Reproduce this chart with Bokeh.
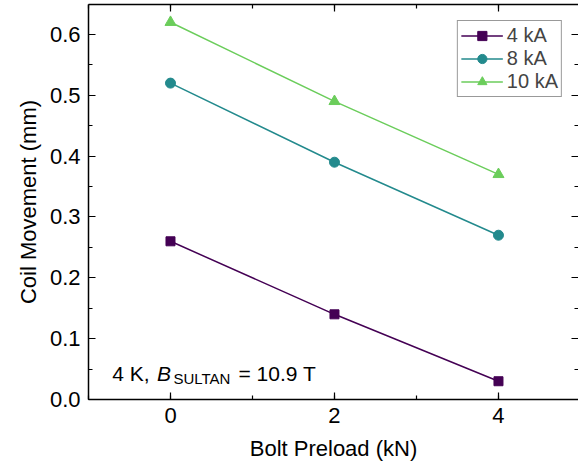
from bokeh.plotting import figure
from bokeh.models import (LinearAxis, SingleIntervalTicker, NumeralTickFormatter,
                          Label, Range1d, CustomJSTickFormatter)
from bokeh.embed import file_html
from bokeh.resources import INLINE

# ---- data ----
preload = [0, 2, 4]
move_4kA = [0.26, 0.14, 0.03]
move_8kA = [0.52, 0.39, 0.27]
move_10kA = [0.62, 0.49, 0.37]
series_labels = ["4 kA", "8 kA", "10 kA"]
x_label = "Bolt Preload (kN)"
y_label = "Coil Movement (mm)"

FONT = "Liberation Sans"
colors = ["#440154", "#238A8D", "#6BCD5B"]

p = figure(width=578, height=463, output_backend="svg", toolbar_location=None,
           x_range=Range1d(-1, 4.976), y_range=Range1d(0, 0.6492),
           min_border_left=88, min_border_right=0, min_border_top=4,
           min_border_bottom=63)
p.xgrid.visible = False
p.ygrid.visible = False
p.outline_line_color = None
p.background_fill_color = "white"
p.border_fill_color = "white"

series = [move_4kA, move_8kA, move_10kA]
markers = ["square", "circle", "triangle"]
sizes = [9, 10, 11]
for ys, c, m, s, lab in zip(series, colors, markers, sizes, series_labels):
    p.line(preload, ys, line_color=c, line_width=1.5, legend_label=lab)
    p.scatter(preload, ys, marker=m, size=s, fill_color=c, line_color=c,
              legend_label=lab)

xt = SingleIntervalTicker(interval=2, num_minor_ticks=2)
yt = SingleIntervalTicker(interval=0.1, num_minor_ticks=2)

def style_axis(ax, labels=True):
    ax.axis_line_color = "black"
    ax.axis_line_width = 1.5
    ax.major_tick_line_color = "black"
    ax.minor_tick_line_color = "black"
    ax.major_tick_line_width = 1.2
    ax.minor_tick_line_width = 1.2
    ax.major_tick_in = 7
    ax.major_tick_out = 0
    ax.minor_tick_in = 4
    ax.minor_tick_out = 0
    if labels:
        ax.major_label_text_font = FONT
        ax.major_label_text_font_size = "22px"
        ax.major_label_text_color = "black"
        ax.axis_label_text_font = FONT
        ax.axis_label_text_font_size = "22px"
        ax.axis_label_text_font_style = "normal"
        ax.axis_label_text_color = "black"
    else:
        ax.formatter = CustomJSTickFormatter(code="return '';")
        ax.major_label_text_font_size = "1px"
        ax.major_label_standoff = 0
        ax.axis_label = None

xa = p.xaxis[0]
xa.ticker = xt
xa.axis_label = x_label
style_axis(xa)
xa.major_label_standoff = 8
xa.axis_label_standoff = 10

ya = p.yaxis[0]
ya.ticker = yt
ya.formatter = NumeralTickFormatter(format="0.0")
ya.axis_label = y_label
style_axis(ya)
ya.major_label_standoff = 8
ya.axis_label_standoff = 6

top = LinearAxis(ticker=SingleIntervalTicker(interval=2, num_minor_ticks=2))
style_axis(top, labels=False)
p.add_layout(top, "above")
right = LinearAxis(ticker=SingleIntervalTicker(interval=0.1, num_minor_ticks=2))
style_axis(right, labels=False)
right.axis_line_color = None
p.add_layout(right, "right")

# legend
lg = p.legend[0]
lg.location = "top_right"
lg.margin = 16
lg.padding = 3
lg.spacing = 0
lg.label_height = 23
lg.glyph_height = 23
lg.glyph_width = 42
lg.label_standoff = 4
lg.label_text_font = FONT
lg.label_text_font_size = "20px"
lg.border_line_color = "#333333"
lg.border_line_width = 1
lg.background_fill_alpha = 1

# annotation: 4 K, B_SULTAN = 10.9 T
common = dict(text_font=FONT, text_color="black", text_baseline="alphabetic")
p.add_layout(Label(x=-0.711, y=0.0426, text="4 K,", text_font_size="21px", **common))
p.add_layout(Label(x=-0.165, y=0.0426, text="B", text_font_size="21px",
                   text_font_style="italic", **common))
p.add_layout(Label(x=0.036, y=0.0344, text="SULTAN", text_font_size="15px", **common))
p.add_layout(Label(x=0.829, y=0.0426, text="= 10.9 T", text_font_size="21px", **common))

open("out.html", "w").write(file_html(p, INLINE))
